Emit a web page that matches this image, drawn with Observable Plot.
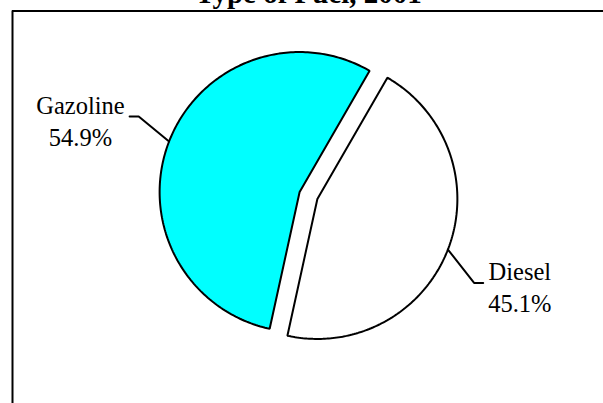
<!DOCTYPE html>
<html><head><meta charset="utf-8">
<script src="https://cdn.jsdelivr.net/npm/d3@7"></script>
<script src="https://cdn.jsdelivr.net/npm/@observablehq/plot@0.6"></script>
<style>html,body{margin:0;padding:0;background:#fff;overflow:hidden}</style>
</head><body><div id="chart"></div>
<script>
// ---- data ----
const chartTitle = "Type of Fuel, 2001";
const fuels = ["Diesel", "Gazoline"];
const shares = [45.1, 54.9];
const sliceColors = ["#FFFFFF", "#00FFFF"];

// ---- layout ----
const W = 603, H = 403, mL = 12, mT = 10.5;
const cx = 308, cy = 195, R = 140;          // pie centre / radius in px
const startDeg = 30, explode = 0.068;       // slice explosion (radius units)
const elbowR = 1.27, hook = 0.065;
const labelFont = 24.5;
const xDomain = [(mL - cx) / R, (W - cx) / R];
const yDomain = [(cy - H) / R, (cy - mT) / R];
const rad = d => d * Math.PI / 180;

const total = d3.sum(shares);
let acc = rad(startDeg);
const slices = fuels.map((f, i) => {
  const a0 = acc, a1 = acc + shares[i] / total * 2 * Math.PI;
  acc = a1;
  const mid = (a0 + a1) / 2;
  return {fuel: f, share: shares[i], color: sliceColors[i], a0, a1, mid,
          ox: explode * Math.sin(mid), oy: explode * Math.cos(mid)};
});

const piePts = [];
for (const s of slices) {
  const v = {fuel: s.fuel, color: s.color, x: s.ox, y: s.oy};
  piePts.push(v);
  const n = 200;
  for (let k = 0; k <= n; k++) {
    const a = s.a0 + (s.a1 - s.a0) * k / n;
    piePts.push({fuel: s.fuel, color: s.color, x: s.ox + Math.sin(a), y: s.oy + Math.cos(a)});
  }
  piePts.push({...v});
}

const ctx = document.createElement("canvas").getContext("2d");
ctx.font = `${labelFont}px "Liberation Serif"`;
const leaderPts = [];
const labels = [];
for (const s of slices) {
  const side = Math.sin(s.mid) < 0 ? -1 : 1;
  const turn = rad(side < 0 ? 4 : 7);
  const p0 = {x: s.ox + Math.sin(s.mid), y: s.oy + Math.cos(s.mid)};
  const ea = s.mid + turn;
  const p1 = {x: s.ox + elbowR * Math.sin(ea), y: s.oy + elbowR * Math.cos(ea)};
  const p2 = {x: p1.x + side * hook, y: p1.y};
  for (const p of [p0, p1, p2]) leaderPts.push({fuel: s.fuel, ...p});
  const l1 = s.fuel, l2 = s.share.toFixed(1) + "%";
  const half = Math.max(ctx.measureText(l1).width, ctx.measureText(l2).width) / 2;
  labels.push({x: p2.x, y: p2.y, text: l1 + "\n" + l2, dx: side * (half + 5)});
}

const chart = Plot.plot({
  width: W, height: H,
  marginLeft: mL, marginTop: mT, marginRight: 0, marginBottom: 0,
  x: {domain: xDomain, axis: null},
  y: {domain: yDomain, axis: null},
  style: {background: "#fff", overflow: "visible"},
  marks: [
    Plot.line(piePts, {x: "x", y: "y", z: "fuel", fill: "color", stroke: "black",
      strokeWidth: 2, strokeLinejoin: "miter", curve: "linear"}),
    Plot.line(leaderPts, {x: "x", y: "y", z: "fuel", stroke: "black", strokeWidth: 2,
      strokeLinejoin: "miter"}),
    ...labels.map(l => Plot.text([l], {x: "x", y: "y", text: "text", dx: l.dx, dy: 3,
      textAnchor: "middle", lineAnchor: "middle", lineHeight: 1.3,
      fontSize: labelFont, fontFamily: "Liberation Serif", fill: "black"})),
    Plot.text([chartTitle], {x: () => 0, text: d => d, frameAnchor: "top",
      lineAnchor: "bottom", dy: 2 - mT, fontSize: 29, fontWeight: "bold",
      fontFamily: "Liberation Serif", fill: "black"}),
    Plot.ruleX([xDomain[0]], {stroke: "black", strokeWidth: 2}),
    Plot.ruleY([yDomain[1]], {stroke: "black", strokeWidth: 2})
  ]
});
document.getElementById("chart").appendChild(chart);
</script>
</body></html>
